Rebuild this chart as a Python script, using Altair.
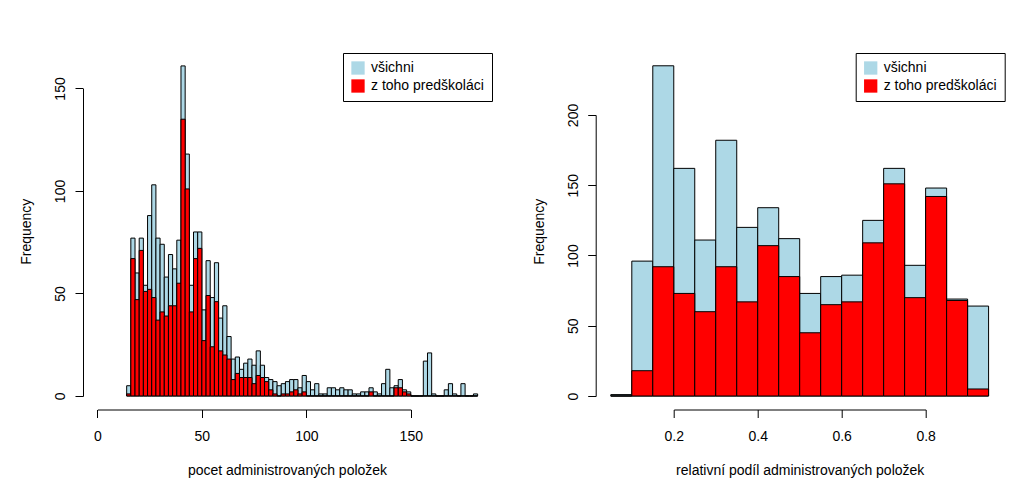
import altair as alt
import pandas as pd

FONT = "Liberation Sans"
LIGHT = "#ADD8E6"
RED = "#FF0000"
SERIES = ["všichni", "z toho predškoláci"]

# ---- left histogram: pocet administrovaných položek (bins of width 2) ----
left_breaks = list(range(14, 184, 2))
left_all = [5, 77, 60, 77, 54, 88, 103, 77, 74, 58, 69, 62, 76, 161,
            118, 54, 80, 80, 42, 66, 48, 65, 38, 44, 29, 18, 19, 13,
            16, 18, 15, 22, 15, 9, 8, 7, 5, 6, 7, 8, 8, 4,
            10, 7, 3, 6, 1, 1, 4, 4, 3, 4, 3, 3, 1, 1,
            2, 2, 4, 2, 1, 6, 13, 4, 5, 8, 3, 2, 0, 0,
            0, 17, 21, 1, 0, 0, 3, 6, 1, 0, 6, 0, 0, 1]
left_red = [1, 67, 47, 71, 51, 52, 48, 37, 41, 39, 44, 44, 55, 135,
            101, 41, 67, 72, 27, 49, 24, 46, 22, 20, 18, 8, 11, 9,
            9, 9, 6, 10, 9, 7, 3, 1, 0, 1, 1, 2, 3, 1,
            2, 0, 0, 0, 0, 0, 0, 0, 0, 0, 0, 0, 0, 0,
            0, 0, 2, 0, 0, 0, 0, 0, 4, 4, 2, 1, 0, 0,
            0, 0, 0, 0, 0, 0, 0, 0, 0, 0, 0, 0, 0, 0]
left_xticks = [0, 50, 100, 150]
left_yticks = [0, 50, 100, 150]

# ---- right histogram: relativní podíl administrovaných položek ----
right_breaks = [0.05, 0.10, 0.15, 0.20, 0.25, 0.30, 0.35, 0.40, 0.45, 0.50,
                0.55, 0.60, 0.65, 0.70, 0.75, 0.80, 0.85, 0.90, 0.95]
right_all = [1, 96, 235, 162, 111, 182, 120, 134, 112, 73, 85, 86, 125, 162, 93, 148, 69, 64]
right_red = [0, 18, 92, 73, 60, 92, 67, 107, 85, 45, 65, 67, 109, 151, 70, 142, 68, 5]
right_xticks = [0.2, 0.4, 0.6, 0.8]
right_yticks = [0, 50, 100, 150, 200]

W = 408
H = 356.5
LEG_W = 148


def frac(v, dom, size):
    return (v - dom[0]) / (dom[1] - dom[0]) * size


def panel(breaks, all_counts, red_counts, xdom, ydom, xticks, yticks, xfmt, xtitle):
    rows = []
    for name, counts in ((SERIES[0], all_counts), (SERIES[1], red_counts)):
        for i, c in enumerate(counts):
            rows.append({"series": name, "x0": breaks[i], "x1": breaks[i + 1],
                         "count": c, "base": 0})
    df = pd.DataFrame(rows)
    xd0 = frac(xticks[0], xdom, W)
    xd1 = frac(xticks[-1], xdom, W)
    yd0 = frac(yticks[0], ydom, H)
    yd1 = frac(yticks[-1], ydom, H)
    return alt.Chart(df).mark_rect(stroke="black", strokeWidth=1).encode(
        x=alt.X("x0:Q", scale=alt.Scale(domain=xdom, nice=False, zero=False),
                axis=alt.Axis(values=xticks, format=xfmt, title=xtitle, grid=False,
                              tickSize=8, tickColor="black", domainColor="black",
                              domainDash=[0, xd0, xd1 - xd0, 5000],
                              labelFont=FONT, labelFontSize=14, labelColor="black",
                              labelBaseline="alphabetic", labelPadding=22.8,
                              labelFlush=False, labelOverlap=False,
                              titleFont=FONT, titleFontSize=14, titleFontWeight="normal",
                              titleColor="black", titleBaseline="alphabetic", titleY=64.5)),
        x2="x1:Q",
        y=alt.Y("count:Q", scale=alt.Scale(domain=ydom, nice=False, zero=False),
                axis=alt.Axis(values=yticks, format="d", title="Frequency", grid=False,
                              tickSize=8, tickColor="black", domainColor="black",
                              domainDash=[0, yd0, yd1 - yd0, 5000],
                              labelFont=FONT, labelFontSize=14, labelColor="black",
                              labelAngle=270, labelAlign="center",
                              labelBaseline="alphabetic", labelPadding=10.7,
                              labelFlush=False, labelOverlap=False,
                              titleFont=FONT, titleFontSize=14, titleFontWeight="normal",
                              titleColor="black", titleAngle=270, titleAlign="center",
                              titleBaseline="alphabetic", titleX=-52.5, titleY=H / 2)),
        y2="base:Q",
        color=alt.Color("series:N",
                        scale=alt.Scale(domain=SERIES, range=[LIGHT, RED]),
                        legend=alt.Legend(title=None, orient="none", legendX=W - LEG_W,
                                          legendY=0, direction="vertical",
                                          symbolType="square", symbolSize=177,
                                          symbolStrokeWidth=0, symbolOpacity=1,
                                          labelFont=FONT, labelFontSize=14,
                                          labelColor="black", labelOffset=6,
                                          rowPadding=4, padding=8,
                                          strokeColor="black", fillColor="white")),
    ).properties(width=W, height=H)


left = panel(left_breaks, left_all, left_red, [-6.9, 188.4], [-6.6, 167.3],
             left_xticks, left_yticks, "d", "pocet administrovaných položek")
right = panel(right_breaks, right_all, right_red, [0.014, 0.986], [-9.6, 244.1],
              right_xticks, right_yticks, ".1f", "relativní podíl administrovaných položek")

chart = alt.hconcat(left, right, spacing=104.7, bounds="flush").resolve_scale(
    color="independent").resolve_legend(color="independent").properties(
    padding={"left": 11, "top": 44, "right": 5, "bottom": 5},
    background="white",
).configure_view(strokeWidth=0)

chart.save("out.html", embed_options={"renderer": "svg", "actions": False})
